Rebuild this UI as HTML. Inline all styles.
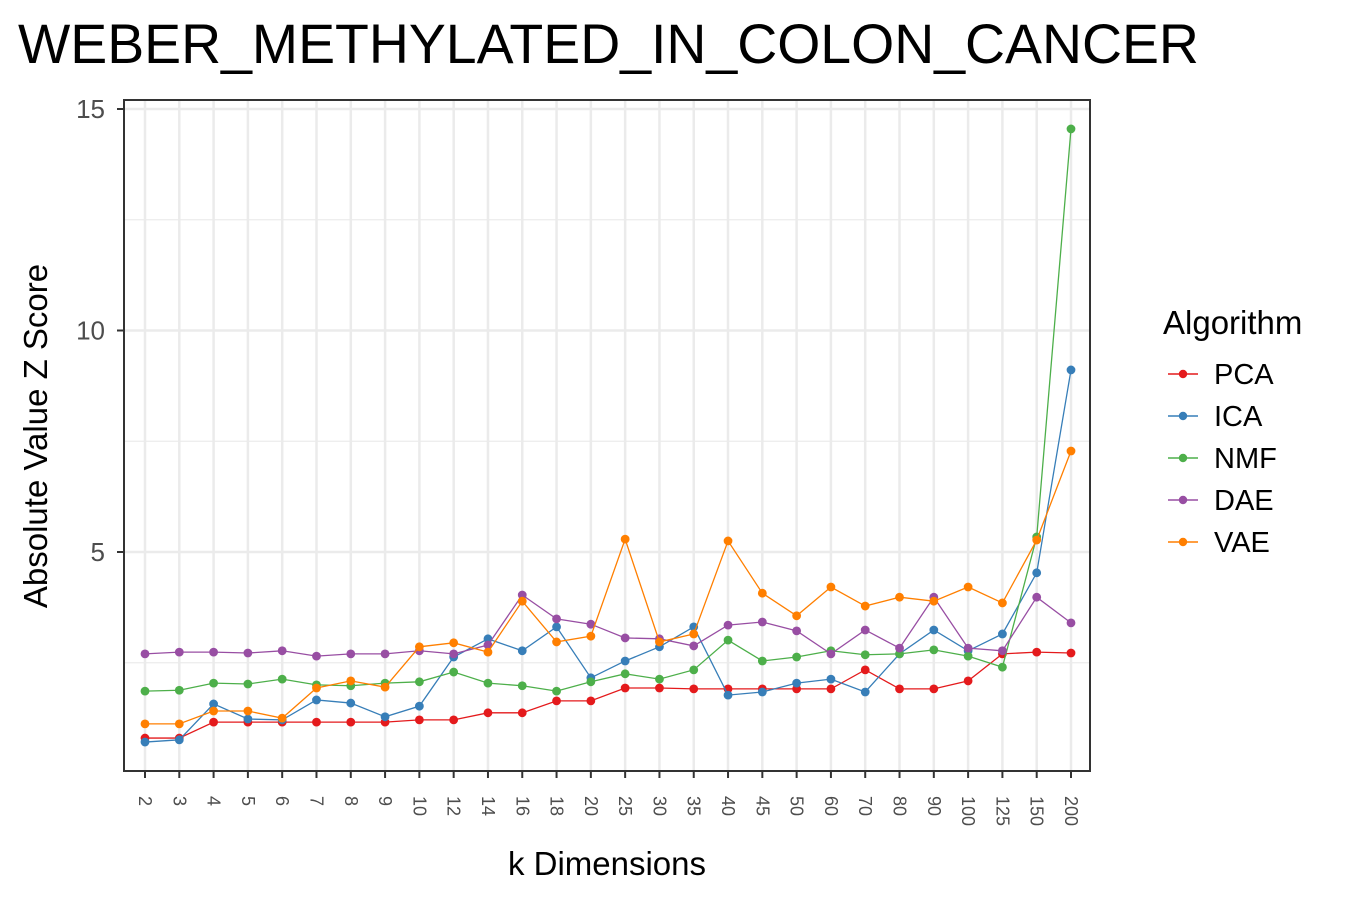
<!DOCTYPE html>
<html><head><meta charset="utf-8"><style>
body{margin:0;background:#fff;font-family:"Liberation Sans",Arial,sans-serif}
svg{display:block}
</style></head><body>
<svg id="chart" width="1350" height="900" xmlns="http://www.w3.org/2000/svg">
<text x="18" y="63" font-size="55.4" font-family="Liberation Sans, Arial, sans-serif" fill="#000">WEBER_METHYLATED_IN_COLON_CANCER</text>
<g id="grid"></g>
<g id="series"></g>
<rect x="124" y="100" width="966" height="671" fill="none" stroke="#333" stroke-width="2"/>
<g id="axes"></g>
<text x="607" y="875" font-size="33" text-anchor="middle" fill="#000">k Dimensions</text>
<text transform="translate(47,436) rotate(-90)" font-size="33" text-anchor="middle" fill="#000">Absolute Value Z Score</text>
<g id="legend">
<text x="1163" y="334" font-size="33" fill="#000">Algorithm</text>
</g>
</svg>
<script>
const categories=["2","3","4","5","6","7","8","9","10","12","14","16","18","20","25","30","35","40","45","50","60","70","80","90","100","125","150","200"];
const seriesNames=["PCA","ICA","NMF","DAE","VAE"];
const seriesColors=["#e41a1c","#377eb8","#4daf4a","#984ea3","#ff7f00"];
const pcaValues=[0.80,0.80,1.16,1.16,1.16,1.16,1.16,1.16,1.21,1.21,1.37,1.37,1.64,1.64,1.93,1.93,1.91,1.91,1.91,1.91,1.91,2.34,1.91,1.91,2.09,2.70,2.74,2.72];
const icaValues=[0.71,0.76,1.57,1.23,1.21,1.66,1.59,1.28,1.52,2.63,3.04,2.77,3.31,2.16,2.54,2.86,3.31,1.77,1.84,2.04,2.13,1.84,2.70,3.24,2.77,3.15,4.53,9.11];
const nmfValues=[1.86,1.88,2.04,2.02,2.13,2.00,1.98,2.04,2.07,2.29,2.04,1.98,1.86,2.07,2.25,2.13,2.34,3.01,2.54,2.63,2.77,2.68,2.70,2.79,2.65,2.40,5.34,14.55];
const daeValues=[2.70,2.74,2.74,2.72,2.77,2.65,2.70,2.70,2.77,2.70,2.90,4.03,3.49,3.37,3.06,3.04,2.88,3.35,3.42,3.22,2.70,3.24,2.83,3.98,2.83,2.77,3.98,3.40];
const vaeValues=[1.12,1.12,1.41,1.41,1.25,1.93,2.09,1.95,2.86,2.95,2.74,3.89,2.97,3.10,5.29,2.97,3.15,5.25,4.07,3.56,4.21,3.78,3.98,3.89,4.21,3.85,5.27,7.28];
const yMajorTicks=[5,10,15];
const yMinorTicks=[2.5,7.5,12.5];
const cats=categories;
const allValues=[pcaValues,icaValues,nmfValues,daeValues,vaeValues];
const NS="http://www.w3.org/2000/svg";
const xPos=i=>145+i*(1071-145)/(cats.length-1);
const yPos=v=>773.5-44.3*v;
function mk(tag,attrs,parent){const e=document.createElementNS(NS,tag);for(const k in attrs)e.setAttribute(k,attrs[k]);parent.appendChild(e);return e;}
const grid=document.getElementById('grid'),axes=document.getElementById('axes'),series=document.getElementById('series'),legend=document.getElementById('legend');
mk('rect',{x:124,y:100,width:966,height:671,fill:'#fff'},grid);
yMinorTicks.forEach(v=>{const l=mk('line',{x1:124,x2:1090,y1:yPos(v),y2:yPos(v),stroke:'#ebebeb','stroke-width':1.2},grid);

});
yMajorTicks.forEach(v=>{const l=mk('line',{x1:124,x2:1090,y1:yPos(v),y2:yPos(v),stroke:'#ebebeb','stroke-width':2.5},grid);


const t=mk('line',{x1:117,x2:124,y1:yPos(v),y2:yPos(v),stroke:'#333','stroke-width':2},axes);


const tx=mk('text',{x:105,y:yPos(v)+9,'font-size':26,'text-anchor':'end',fill:'#4d4d4d'},axes);
tx.textContent=v;

});
cats.forEach((c,i)=>{const x=xPos(i);
const l=mk('line',{x1:x,x2:x,y1:100,y2:771,stroke:'#ebebeb','stroke-width':2.5},grid);


const t=mk('line',{x1:x,x2:x,y1:771,y2:778,stroke:'#333','stroke-width':2},axes);


const tx=mk('text',{transform:`translate(${x-6},796) rotate(90)`,'font-size':18,fill:'#4d4d4d'},axes);
tx.textContent=c;

});
allValues.forEach((vals,s)=>{const col=seriesColors[s];
const pts=vals.map((v,i)=>xPos(i)+','+yPos(v)).join(' ');
const pl=mk('polyline',{points:pts,fill:'none',stroke:col,'stroke-width':1.3},series);


vals.forEach((v,i)=>{const p=mk('circle',{cx:xPos(i),cy:yPos(v),r:4.4,fill:col},series);

});
const ly=374+s*42;
const ll=mk('line',{x1:1168,x2:1198,y1:ly,y2:ly,stroke:col,'stroke-width':1.5},legend);


const lp=mk('circle',{cx:1183,cy:ly,r:4.2,fill:col},legend);


const lt=mk('text',{x:1214,y:ly+10,'font-size':29,fill:'#000'},legend);
lt.textContent=seriesNames[s];

});
</script>
</body></html>
